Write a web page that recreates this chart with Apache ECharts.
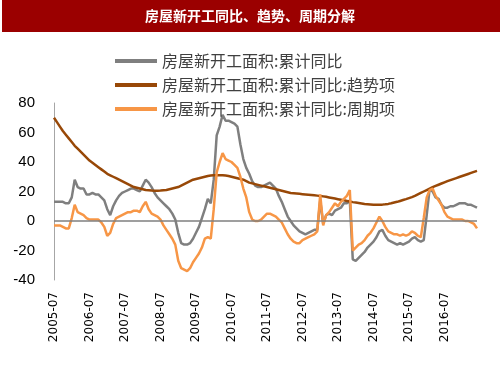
<!DOCTYPE html>
<html>
<head>
<meta charset="utf-8">
<script src="https://cdn.jsdelivr.net/npm/echarts@6/dist/echarts.min.js"></script>
<style>
  html, body { margin: 0; padding: 0; background: #fff; }
  #chart { width: 500px; height: 375px; }
</style>
</head>
<body>
<div id="chart"></div>
<script>
// 月份：2005-07 起，共 144 个月
var months = [];
for (var k = 0; k < 144; k++) {
  var m = 6 + k;
  var y = 2005 + Math.floor(m / 12);
  var mm = (m % 12) + 1;
  months.push(y + '-' + (mm < 10 ? '0' + mm : mm));
}

var seriesNames = ['房屋新开工面积:累计同比', '房屋新开工面积:累计同比:趋势项', '房屋新开工面积:累计同比:周期项'];

var yoyData = [
  13, 13, 13, 13, 12, 12, 16, 28, 23, 22,
  22, 18, 18, 19, 18, 18, 16, 14, 8, 4,
  10, 14, 17, 19, 20, 21, 22, 22, 21, 20,
  24, 28, 26, 23, 19, 16, 14, 12, 10, 8,
  5, 1, -8, -15, -16, -16, -15, -12, -8, -4,
  2, 8, 15, 12, 28, 58, 64, 72, 68, 68,
  67, 66, 64, 52, 42, 36, 32, 27, 24, 23,
  23, 24, 25, 26, 24, 22, 17, 13, 8, 3,
  0, -3, -5, -7, -8, -9, -8, -7, -6, -6,
  14, -2, 4, 5, 4, 7, 8, 9, 12, 12,
  14, -26, -27, -25, -23, -21, -18, -16, -14, -11,
  -7, -6, -10, -13, -14, -15, -16, -15, -16, -15,
  -14, -12, -11, -13, -14, -13, 4, 22, 20, 16,
  15, 11, 9, 9, 10, 10, 11, 12, 12, 12,
  11, 11, 10, 9
];

var trendData = [
  70, 67, 64, 61, 58.5, 56, 53.5, 51, 49, 47,
  45, 43, 41, 39.5, 38, 36.5, 35, 33.5, 32, 31,
  30, 29, 28, 27, 26, 25, 24, 23, 22.5, 22,
  21.5, 21, 20.8, 20.6, 20.5, 20.5, 20.6, 20.8, 21, 21.5,
  22, 22.5, 23, 24, 25, 26, 27, 28, 28.5, 29,
  29.5, 30, 30.5, 30.8, 31, 31, 31, 31, 30.8, 30.5,
  30, 29.5, 29, 28.5, 28, 27, 26, 25.5, 25, 24.5,
  24, 23.5, 23, 22.5, 22, 21.5, 21, 20.5, 20, 19.5,
  19, 18.8, 18.6, 18.4, 18.2, 18, 17.8, 17.6, 17.4, 17.2,
  17, 16.7, 16.4, 16, 15.6, 15.2, 14.8, 14.4, 14, 13.6,
  13.2, 12.8, 12.5, 12.2, 11.9, 11.6, 11.4, 11.2, 11, 11,
  11, 11.1, 11.3, 11.6, 12, 12.5, 13, 13.6, 14.2, 14.8,
  15.5, 16.2, 17, 18, 19, 20, 21, 22, 23, 23.8,
  24.6, 25.4, 26.2, 27, 27.7, 28.4, 29.1, 29.8, 30.5, 31.2,
  31.9, 32.6, 33.3, 34
];

var cycleData = [
  -3, -3, -3, -4, -5, -5, 2, 11, 6, 5,
  4, 2, 1, 1, 1, 1, -1, -4, -10, -8,
  -2, 2, 3, 4, 5, 6, 6, 7, 7, 6,
  10, 13, 8, 5, 4, 3, 1, -3, -6, -9,
  -12, -16, -27, -32, -33, -34, -32, -28, -25, -22,
  -18, -12, -11, -12, 8, 33, 40, 46, 42, 41,
  40, 38, 36, 30, 22, 16, 6, 1, 0, 0,
  1, 3, 5, 5, 4, 3, 1, -1, -5, -9,
  -12, -14, -15, -15, -13, -12, -11, -10, -9, -7,
  18, -3, 4, 6, 9, 12, 10, 13, 15, 17,
  21, -20, -18, -16, -15, -13, -10, -8, -5, -1,
  3, 0, -4, -7, -8, -9, -9, -10, -9, -10,
  -9, -7, -8, -10, -11, 2, 16, 21, 22, 17,
  14, 11, 6, 3, 2, 1, 1, 1, 1, 0,
  0, -1, -2, -5
];

var colors = ['#7f7f7f', '#984807', '#f79646'];

var chart = echarts.init(document.getElementById('chart'));

chart.setOption({
  animation: false,
  graphic: [
    {
      type: 'rect',
      shape: {x: 2, y: 0, width: 498, height: 32},
      style: {fill: '#9b0000'}
    },
    {
      type: 'text',
      x: 250,
      y: 16,
      style: {
        text: '房屋新开工同比、趋势、周期分解',
        fill: '#fff',
        font: 'bold 14px "Noto Sans CJK SC"',
        align: 'center',
        verticalAlign: 'middle'
      }
    }
  ],
  legend: seriesNames.map(function (n, k) {
    return {
      data: [n],
      left: 110,
      top: 48 + k * 24,
      icon: 'rect',
      itemWidth: 42,
      itemHeight: 4,
      selectedMode: false,
      textStyle: {fontSize: 16, color: '#404040', fontFamily: 'Noto Sans CJK SC'}
    };
  }),
  grid: {
    left: 54,
    right: 23,
    top: 103,
    bottom: 95
  },
  xAxis: {
    type: 'category',
    data: months,
    boundaryGap: false,
    axisLine: {show: false},
    axisTick: {show: false},
    axisLabel: {
      interval: 11,
      rotate: 90,
      margin: 12,
      fontSize: 12,
      color: '#000',
      fontFamily: 'DejaVu Sans'
    }
  },
  yAxis: {
    type: 'value',
    min: -40,
    max: 80,
    interval: 20,
    splitLine: {show: false},
    axisTick: {show: false},
    axisLine: {show: true, lineStyle: {color: '#a6a6a6', width: 1}},
    axisLabel: {
      margin: 19,
      fontSize: 15,
      color: '#000',
      fontFamily: 'Liberation Sans'
    }
  },
  series: [
    {
      name: seriesNames[0],
      type: 'line',
      data: yoyData,
      color: colors[0],
      showSymbol: false,
      lineStyle: {color: colors[0], width: 2.5},
      markLine: {
        silent: true,
        symbol: 'none',
        label: {show: false},
        lineStyle: {color: '#7f7f7f', width: 1.5, type: 'solid'},
        data: [{yAxis: 0}]
      }
    },
    {
      name: seriesNames[1],
      type: 'line',
      data: trendData,
      color: colors[1],
      showSymbol: false,
      lineStyle: {color: colors[1], width: 2.5}
    },
    {
      name: seriesNames[2],
      type: 'line',
      data: cycleData,
      color: colors[2],
      showSymbol: false,
      lineStyle: {color: colors[2], width: 2.5}
    }
  ]
});
</script>
</body>
</html>
